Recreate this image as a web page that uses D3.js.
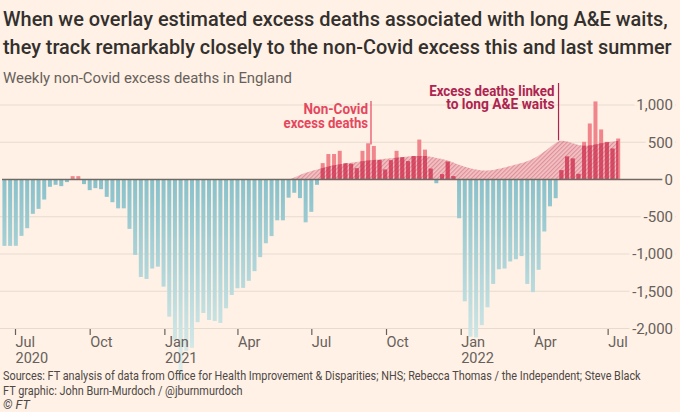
<!DOCTYPE html>
<html><head><meta charset="utf-8">
<script src="https://cdn.jsdelivr.net/npm/d3@7"></script>
<style>
html,body{margin:0;padding:0;background:#fff1e5;}
svg{display:block;}
text{font-family:Roboto,"Noto Sans",sans-serif;}
</style></head><body>
<svg id="chart" width="680" height="412"></svg>
<script>
// ---------- DATA ----------
const firstWeek = "2020-06-18";   // centre date of the first weekly bar
const excessDeaths = [
  -891,-891,-890,-757,-654,-461,-394,-269,-98,-71,
  -89,-35,45,45,-62,-143,-116,-130,-233,-305,
  -387,-387,-663,-1012,-1308,-1335,-1195,-1170,-1438,-1841,
  -2150,-2700,-2300,-2260,-1915,-1792,-1886,-1899,-1926,-1729,
  -1550,-1460,-1455,-1360,-1230,-1042,-856,-760,-548,-548,
  -244,-178,-250,-575,-434,-71,220,342,342,385,
  220,210,151,385,486,450,263,133,258,385,
  300,246,315,536,401,146,-50,71,240,45,
  -520,-1635,-2110,-2120,-1955,-1716,-1402,-1205,-1195,-1100,
  -1070,-1028,-1402,-1512,-1212,-698,-360,-251,125,309,
  282,76,506,752,1048,672,505,415,550
];
const aeFirstWeekIndex = 50;      // A&E series starts at the 51st week
const aeLinkedDeaths = [
  0,25,60,90,115,135,155,175,192,205,
  215,225,235,245,255,262,270,278,285,292,
  300,308,315,318,315,305,290,275,255,230,
  195,170,150,132,118,120,128,142,160,182,
  200,220,245,275,320,375,430,495,530,510,
  485,462,450,455,470,487,500,510,520
];
const xTickDates  = ["2020-07-01","2020-10-01","2021-01-01","2021-04-01","2021-07-01","2021-10-01","2022-01-01","2022-04-01","2022-07-01"];
const xTickMonths = ["Jul","Oct","Jan","Apr","Jul","Oct","Jan","Apr","Jul"];
const xTickYears  = ["2020","","2021","","","","2022","",""];
const yTickValues = [-2000,-1500,-1000,-500,0,500,1000];

const titleLines = [
  "When we overlay estimated excess deaths associated with long A&E waits,",
  "they track remarkably closely to the non-Covid excess this and last summer"
];
const subtitle = "Weekly non-Covid excess deaths in England";
const sourceLines = [
  "Sources: FT analysis of data from Office for Health Improvement & Disparities; NHS; Rebecca Thomas / the Independent; Steve Black",
  "FT graphic: John Burn-Murdoch / @jburnmurdoch"
];
const nonCovidLabel = ["Non-Covid", "excess deaths"];
const aeLabel = ["Excess deaths linked", "to long A&E waits"];

// ---------- BUILD ----------
const parse = d3.utcParse("%Y-%m-%d");
const start = parse(firstWeek);
const weeks = excessDeaths.map((v, i) => ({date: d3.utcDay.offset(start, 7 * i), value: v, i}));
const aeData = aeLinkedDeaths.map((v, k) => ({date: weeks[aeFirstWeekIndex + k].date, value: v}));

const svg = d3.select("#chart");
const W = 680, H = 412;
svg.append("rect").attr("width", W).attr("height", H).attr("fill", "#fff1e5");

const x = d3.scaleUtc().domain([parse("2020-07-01"), parse("2022-01-01")]).range([15, 460.7]);
const y = d3.scaleLinear().domain([-2000, 1000]).range([328.5, 105]);
const barW = 4;

// text placed at (x0,y0) and squeezed horizontally to a target width
function fitText(parent, str, x0, y0, width, attrs, anchor) {
  const t = parent.append("text").attr("x", 0).attr("y", 0)
    .attr("text-anchor", anchor || "start").text(str);
  Object.entries(attrs).forEach(([k, v]) => t.attr(k, v));
  const natural = t.node().getComputedTextLength();
  const s = width ? width / natural : 1;
  t.attr("transform", `translate(${x0},${y0}) scale(${s},1)`);
  return t;
}

const defs = svg.append("defs");
const grad = defs.append("linearGradient").attr("id", "blueGrad")
  .attr("gradientUnits", "userSpaceOnUse")
  .attr("x1", 0).attr("x2", 0).attr("y1", y(0)).attr("y2", y(-2700));
grad.append("stop").attr("offset", 0).attr("stop-color", "#88c1cb");
grad.append("stop").attr("offset", 1).attr("stop-color", "#e2efec");

const pat = defs.append("pattern").attr("id", "hatch")
  .attr("patternUnits", "userSpaceOnUse").attr("width", 3).attr("height", 3)
  .attr("patternTransform", "rotate(45)");
pat.append("rect").attr("width", 3).attr("height", 3).attr("fill", "rgba(214,95,120,0.32)");
pat.append("rect").attr("width", 1.2).attr("height", 3).attr("fill", "rgba(190,45,85,0.35)");

const area = d3.area().x(d => x(d.date)).y0(y(0)).y1(d => y(d.value)).curve(d3.curveBasis);
defs.append("clipPath").attr("id", "aeClip").append("path").datum(aeData).attr("d", area);

// gridlines
const gridG = svg.append("g");
gridG.selectAll("line").data(yTickValues.filter(v => v !== 0)).join("line")
  .attr("x1", 0).attr("x2", 676).attr("y1", d => y(d)).attr("y2", d => y(d))
  .attr("stroke", "#e7dbd0").attr("stroke-width", 1);

// bars
const barsG = svg.append("g");
barsG.selectAll("rect.neg").data(weeks.filter(d => d.value < 0)).join("rect").attr("class", "neg")
  .attr("x", d => x(d.date) - barW / 2).attr("width", barW)
  .attr("y", y(0)).attr("height", d => y(d.value) - y(0))
  .attr("fill", "url(#blueGrad)");
const pos = weeks.filter(d => d.value > 0);
barsG.selectAll("rect.pos").data(pos).join("rect").attr("class", "pos")
  .attr("x", d => x(d.date) - barW / 2).attr("width", barW)
  .attr("y", d => y(d.value)).attr("height", d => y(0) - y(d.value))
  .attr("fill", "#f0868c");
barsG.append("g").attr("clip-path", "url(#aeClip)")
  .selectAll("rect").data(pos).join("rect")
  .attr("x", d => x(d.date) - barW / 2).attr("width", barW)
  .attr("y", d => y(d.value)).attr("height", d => y(0) - y(d.value))
  .attr("fill", "#d8455d");

// A&E area
svg.append("path").datum(aeData).attr("d", area).attr("fill", "url(#hatch)");

// zero line
svg.append("line").attr("x1", 2).attr("x2", 666).attr("y1", y(0)).attr("y2", y(0))
  .attr("stroke", "#6f6964").attr("stroke-width", 1.3);

// y axis labels
const yAxis = d3.axisRight(y).tickValues(yTickValues).tickSize(0)
  .tickFormat(d => d3.format(",")(d).replace("\u2212", "-"));
const yG = svg.append("g").attr("transform", "translate(673,0)").call(yAxis);
yG.select(".domain").remove();
yG.selectAll("text").attr("x", 0).attr("text-anchor", "end")
  .attr("font-family", "Roboto,sans-serif").attr("font-size", 15).attr("fill", "#66605c")
  .attr("stroke", "#fff1e5").attr("stroke-width", 6).attr("paint-order", "stroke");

// x axis
const xAxis = d3.axisBottom(x).tickValues(xTickDates.map(parse)).tickSize(6).tickFormat("");
const xG = svg.append("g").attr("transform", "translate(0,329)").call(xAxis);
xG.select(".domain").remove();
xG.selectAll(".tick line").attr("stroke", "#66605c").attr("stroke-width", 1.2);
xG.selectAll(".tick").each(function(d, i) {
  const t = d3.select(this).append("text").attr("x", 0).attr("text-anchor", "start")
    .attr("font-family", "Roboto,sans-serif").attr("font-size", 14.5).attr("fill", "#66605c");
  t.append("tspan").attr("x", 0).attr("y", 18).text(xTickMonths[i]);
  if (xTickYears[i]) t.append("tspan").attr("x", 0).attr("y", 34).text(xTickYears[i]);
});

// annotations
const annoX1 = (x(weeks[64].date) + x(weeks[65].date)) / 2;
svg.append("line").attr("x1", annoX1).attr("x2", annoX1).attr("y1", y(1000) - 4).attr("y2", y(470))
  .attr("stroke", "#e4475e").attr("stroke-width", 1.2);
const a1Attrs = {"font-weight": 700, "font-size": 14.5, "fill": "#e4475e"};
fitText(svg, nonCovidLabel[0], annoX1 - 3, 113.5, 64.5, a1Attrs, "end");
fitText(svg, nonCovidLabel[1], annoX1 - 3, 127.5, 84.5, a1Attrs, "end");

const annoX2 = (x(weeks[97].date) + x(weeks[98].date)) / 2;
svg.append("line").attr("x1", annoX2).attr("x2", annoX2).attr("y1", 83).attr("y2", y(525))
  .attr("stroke", "#ad2451").attr("stroke-width", 1.2);
const a2Attrs = {"font-weight": 700, "font-size": 14.5, "fill": "#ad2451"};
fitText(svg, aeLabel[0], annoX2 - 4, 95.5, 125.5, a2Attrs, "end");
fitText(svg, aeLabel[1], annoX2 - 4, 109, 108.5, a2Attrs, "end");

// titles
const titleAttrs = {"font-size": 20.5, "font-weight": 500, "fill": "#33302e"};
fitText(svg, titleLines[0], 3, 25.5, 665, titleAttrs);
fitText(svg, titleLines[1], 3, 53.5, 669, titleAttrs);
fitText(svg, subtitle, 3, 83, 289, {"font-size": 15, "fill": "#66605c"});

// sources
const srcAttrs = {"font-size": 12.5, "fill": "#4d4845"};
fitText(svg, sourceLines[0], 3, 380, 638, srcAttrs);
fitText(svg, sourceLines[1], 3, 395, 240, srcAttrs);
svg.append("text").attr("x", 3).attr("y", 409).attr("font-size", 12.5).attr("font-style", "italic")
  .attr("fill", "#4d4845").text("\u00a9 FT");
</script>
</body></html>
